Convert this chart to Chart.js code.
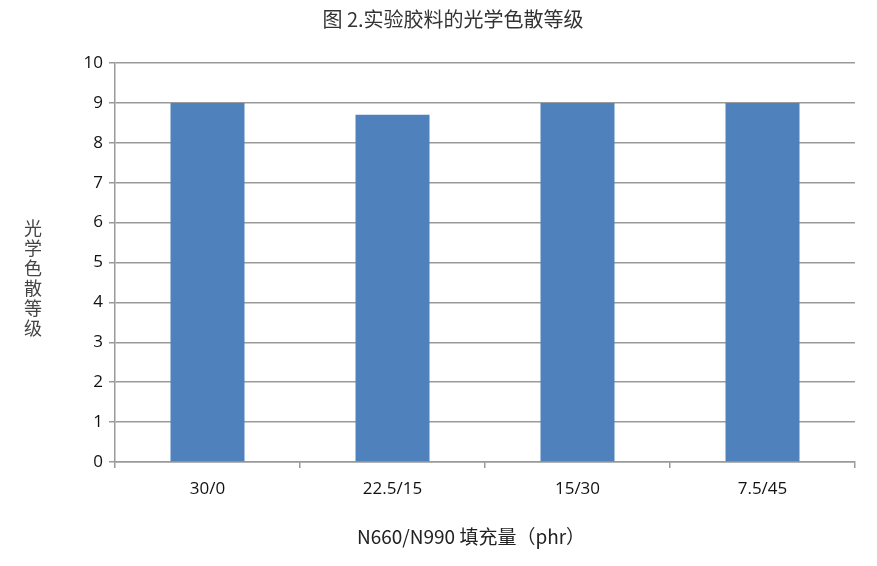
<!DOCTYPE html>
<html>
<head>
<meta charset="utf-8">
<script src="https://cdn.jsdelivr.net/npm/chart.js@4"></script>
<style>
  html, body { margin: 0; padding: 0; background: #fff; }
  #wrap { width: 877px; height: 566px; position: relative; }
</style>
</head>
<body>
<div id="wrap"><canvas id="chart" width="877" height="566"></canvas></div>
<script>
// 数据
const categories = ['30/0', '22.5/15', '15/30', '7.5/45'];
const dispersionGrade = [9, 8.7, 9, 9];
const yTicks = [0, 1, 2, 3, 4, 5, 6, 7, 8, 9, 10];

const chartTitle = '图 2.实验胶料的光学色散等级';
const yTitle = '光学色散等级';
const xTitle = 'N660/N990 填充量（phr）';

const cjkFont = '"Noto Sans CJK SC", "Noto Sans", sans-serif';
const latinFont = '"Open Sans", "Noto Sans", sans-serif';
const gridColor = '#9a9a9a';

// 标题和坐标轴名称
const labelsPlugin = {
  id: 'labels',
  afterDraw(chart) {
    const ctx = chart.ctx;
    ctx.save();
    ctx.fillStyle = '#333';
    ctx.textBaseline = 'middle';
    ctx.textAlign = 'center';
    ctx.font = '20px ' + cjkFont;
    ctx.fillText(chartTitle, 453, 19);

    ctx.font = '18px ' + cjkFont;
    ctx.fillStyle = '#444';
    Array.from(yTitle).forEach((ch, i) => {
      ctx.fillText(ch, 33, 228 + i * 20);
    });

    ctx.fillStyle = '#222';
    ctx.font = '19px ' + cjkFont;
    ctx.fillText(xTitle, 471, 537);
    ctx.restore();
  }
};

const ctx = document.getElementById('chart').getContext('2d');
const chart = new Chart(ctx, {
  type: 'bar',
  data: {
    labels: categories,
    datasets: [{
      label: '光学色散等级',
      data: dispersionGrade,
      backgroundColor: '#4f81bd',
      borderWidth: 0,
      barPercentage: 0.4,
      categoryPercentage: 1.0
    }]
  },
  options: {
    responsive: false,
    animation: false,
    layout: { padding: { left: 0, right: 22, top: 63, bottom: 0 } },
    plugins: {
      legend: { display: false },
      tooltip: { enabled: false }
    },
    scales: {
      x: {
        offset: true,
        grid: {
          offset: true,
          drawOnChartArea: false,
          drawTicks: true,
          tickLength: 6,
          color: gridColor,
          lineWidth: 1.5
        },
        border: { color: gridColor, width: 1.5 },
        ticks: {
          color: '#111',
          padding: 11,
          font: { family: latinFont, size: 17 }
        },
        afterFit(scale) { scale.height = 566 - 462; }
      },
      y: {
        min: 0,
        max: 10,
        afterBuildTicks(scale) { scale.ticks = yTicks.map(v => ({ value: v })); },
        grid: {
          color: gridColor,
          lineWidth: 1.5,
          tickLength: 6
        },
        border: { color: gridColor, width: 1.5 },
        ticks: {
          color: '#111',
          padding: 6,
          font: { family: latinFont, size: 17 }
        },
        afterFit(scale) { scale.width = 115; }
      }
    }
  },
  plugins: [labelsPlugin]
});
</script>
</body>
</html>
